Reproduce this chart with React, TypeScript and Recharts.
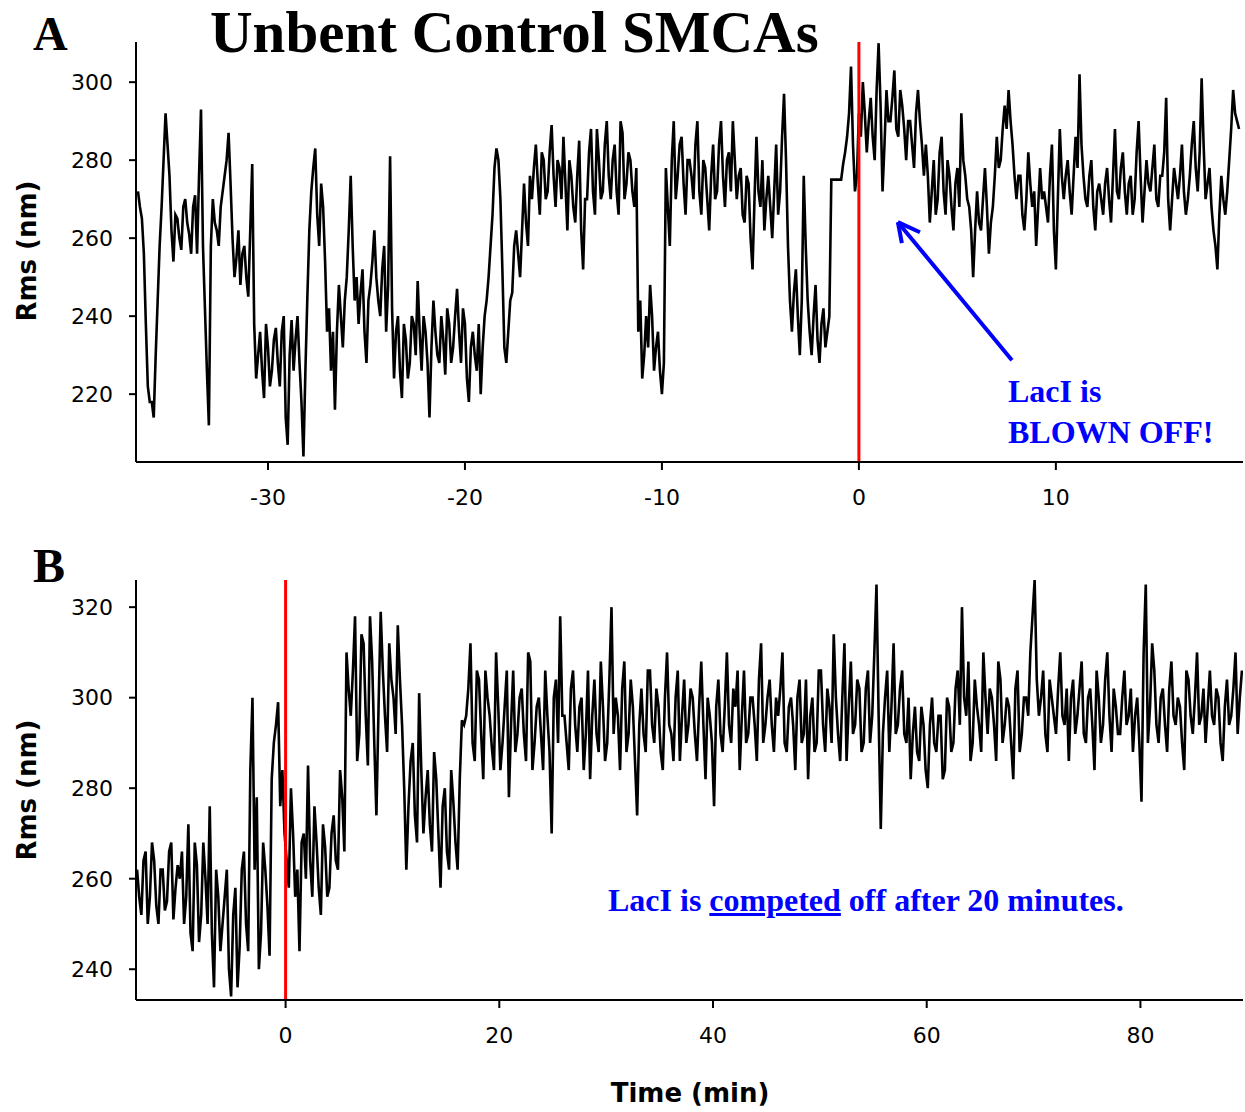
import React from 'react';
import { LineChart, Line, XAxis, YAxis, ReferenceLine } from 'recharts';

// Panel A: LacI blown off. Samples every 0.2 min from -36.6, plus the
// in-between samples (offset 0.1 min) read separately.
const A_START = -36.6;
const A_STEP = 0.2;
const rmsA = [
  272, 265, 238, 218, 214, 244, 268, 292, 276, 254,
  265, 257, 270, 261, 268, 256, 293, 242, 212, 270,
  262, 268, 276, 287, 260, 255, 248, 258, 245, 279,
  224, 236, 219, 232, 226, 237, 222, 240, 207, 239,
  234, 228, 204, 245, 272, 283, 258, 268, 236, 226,
  216, 248, 232, 250, 276, 244, 238, 252, 228, 248,
  262, 244, 252, 236, 281, 224, 240, 219, 234, 228,
  238, 249, 226, 236, 214, 244, 230, 240, 225, 238,
  232, 247, 228, 238, 218, 236, 226, 220, 240, 250,
  266, 283, 270, 232, 236, 246, 262, 250, 274, 258,
  270, 284, 266, 280, 272, 289, 268, 278, 286, 262,
  276, 264, 285, 252, 270, 288, 266, 280, 272, 290,
  270, 284, 266, 287, 274, 280, 268, 236, 224, 240,
  248, 226, 236, 220, 278, 258, 290, 276, 286, 266,
  280, 270, 290, 266, 278, 262, 284, 272, 290, 268,
  282, 290, 270, 278, 264, 274, 252, 286, 268, 262,
  276, 260, 284, 272, 297, 258, 236, 252, 230, 276,
  244, 230, 248, 228, 242, 236, 275, 275, 275, 279,
  286, 304, 272, 292, 300, 282, 296, 280, 310, 272,
  298, 290, 303, 286, 294, 280, 290, 278, 298, 284,
  284, 264, 280, 270, 286, 266, 276, 262, 278, 292,
  276, 268, 250, 272, 262, 278, 256, 268, 286, 280,
  294, 298, 284, 270, 276, 262, 282, 268, 258, 278,
  272, 264, 284, 252, 288, 270, 280, 266, 286, 302,
  276, 268, 280, 262, 274, 266, 278, 264, 288, 270,
  282, 266, 276, 270, 290, 264, 280, 272, 284, 268,
  276, 296, 262, 278, 270, 284, 266, 276, 290, 272,
  301, 270, 278, 262, 252, 276, 266, 280, 298, 290,
];
const rmsAMid = [
  268, 256, 222, 218, 230, 258, 280, 284, 262, 266,
  260, 268, 264, 256, 271, 276, 258, 226, 258, 264,
  258, 272, 280, 274, 250, 262, 256, 250, 262, 238,
  230, 226, 238, 222, 234, 228, 236, 214, 230, 226,
  240, 218, 226, 262, 278, 266, 274, 254, 242, 236,
  236, 240, 244, 262, 258, 250, 246, 236, 244, 254,
  250, 240, 258, 248, 242, 236, 226, 238, 224, 240,
  230, 236, 240, 228, 232, 236, 228, 234, 242, 228,
  240, 236, 242, 224, 232, 230, 238, 232, 244, 258,
  278, 280, 252, 228, 244, 258, 256, 262, 264, 276,
  278, 274, 282, 270, 282, 276, 280, 270, 274, 280,
  268, 276, 262, 270, 282, 272, 288, 270, 284, 276,
  280, 272, 290, 270, 282, 272, 278, 244, 230, 232,
  240, 232, 226, 228, 268, 280, 270, 284, 274, 280,
  276, 284, 272, 280, 270, 276, 270, 284, 276, 280,
  272, 280, 276, 266, 276, 260, 270, 272, 280, 270,
  268, 272, 266, 286, 280, 244, 246, 240, 244, 258,
  236, 240, 234, 238, 232, 240, 275, 275, 275, 282,
  292, 284, 276, 286, 292, 290, 286, 298, 294, 284,
  290, 296, 288, 298, 288, 290, 284, 292, 290, 276,
  276, 272, 266, 282, 272, 280, 268, 274, 268, 280,
  270, 262, 262, 264, 270, 268, 264, 276, 278, 288,
  288, 290, 276, 276, 266, 270, 274, 272, 268, 270,
  268, 276, 262, 270, 276, 276, 272, 276, 278, 284,
  270, 276, 268, 272, 270, 274, 270, 276, 272, 278,
  272, 274, 266, 282, 276, 272, 274, 278, 270, 276,
  282, 270, 270, 274, 276, 272, 270, 284, 278, 282,
  284, 274, 268, 258, 266, 270, 272, 288, 292, 288,
];
const ticksAx = [-30, -20, -10, 0, 10];
const ticksAy = [220, 240, 260, 280, 300];

// Panel B: LacI competed off. Samples every 0.4 min from -13.9, plus the
// in-between samples (offset 0.2 min).
const B_START = -13.9;
const B_STEP = 0.4;
const rmsB = [
  262, 252, 266, 256, 264, 250, 262, 255, 268, 258,
  260, 250, 272, 244, 263, 252, 260, 276, 236, 256,
  250, 262, 234, 258, 245, 266, 244, 300, 278, 248,
  262, 243, 290, 299, 284, 264, 280, 256, 244, 270,
  285, 256, 268, 252, 267, 258, 274, 262, 278, 310,
  296, 318, 292, 312, 285, 308, 274, 319, 296, 312,
  300, 316, 294, 262, 286, 274, 301, 270, 284, 266,
  282, 258, 280, 262, 277, 262, 295, 296, 312, 286,
  304, 282, 300, 289, 310, 284, 298, 278, 306, 292,
  302, 286, 308, 290, 300, 284, 296, 270, 304, 318,
  296, 284, 306, 288, 300, 292, 282, 304, 288, 298,
  290, 320, 300, 284, 308, 292, 298, 274, 302, 288,
  306, 290, 298, 284, 310, 292, 300, 286, 304, 294,
  300, 286, 308, 282, 296, 276, 304, 288, 310, 290,
  298, 284, 306, 292, 300, 286, 312, 294, 304, 288,
  296, 310, 288, 300, 284, 304, 292, 282, 300, 290,
  306, 288, 298, 314, 292, 300, 286, 308, 294, 302,
  290, 306, 296, 325, 271, 300, 288, 312, 294, 306,
  290, 282, 298, 286, 294, 280, 300, 288, 296, 284,
  298, 290, 306, 320, 296, 286, 304, 294, 310, 292,
  300, 286, 304, 294, 298, 282, 306, 292, 300, 310,
  326, 296, 306, 288, 300, 292, 310, 294, 286, 304,
  296, 308, 290, 302, 284, 300, 294, 310, 288, 298,
  292, 306, 296, 288, 300, 277, 325, 298, 306, 290,
  302, 288, 308, 294, 298, 284, 304, 292, 310, 296,
  290, 306, 294, 300, 286, 304, 296, 310, 300,
];
const rmsBMid = [
  256, 264, 250, 268, 254, 262, 253, 266, 251, 263,
  266, 256, 248, 268, 246, 268, 250, 248, 262, 244,
  256, 240, 252, 236, 262, 250, 284, 262, 240, 268,
  254, 282, 294, 276, 270, 258, 270, 262, 268, 260,
  264, 276, 258, 272, 256, 270, 264, 284, 266, 302,
  306, 286, 314, 296, 318, 290, 298, 306, 288, 304,
  292, 304, 280, 276, 290, 268, 284, 278, 272, 288,
  270, 276, 266, 284, 268, 282, 294, 302, 290, 306,
  292, 306, 296, 284, 298, 290, 306, 294, 288, 300,
  292, 310, 284, 298, 292, 306, 288, 300, 290, 296,
  290, 302, 294, 298, 284, 306, 296, 292, 308, 286,
  304, 292, 296, 302, 288, 304, 286, 294, 292, 306,
  294, 302, 288, 300, 294, 286, 306, 296, 290, 302,
  292, 298, 294, 300, 290, 298, 292, 298, 294, 302,
  306, 296, 290, 300, 294, 304, 290, 300, 294, 300,
  302, 290, 298, 294, 300, 290, 304, 296, 288, 306,
  294, 302, 290, 300, 286, 312, 298, 292, 304, 288,
  302, 290, 310, 296, 292, 306, 298, 292, 302, 292,
  300, 292, 288, 298, 284, 294, 290, 296, 282, 300,
  288, 302, 294, 300, 308, 290, 298, 288, 300, 302,
  294, 308, 290, 300, 290, 302, 288, 300, 296, 318,
  304, 300, 292, 304, 296, 302, 296, 302, 300, 292,
  302, 292, 300, 294, 306, 290, 304, 296, 302, 292,
  300, 294, 302, 296, 290, 310, 290, 312, 294, 300,
  294, 302, 296, 300, 290, 306, 296, 300, 294, 302,
  298, 296, 302, 290, 298, 294, 302, 292, 306,
];
const ticksBx = [0, 20, 40, 60, 80];
const ticksBy = [240, 260, 280, 300, 320];

// arrow in panel A (data coords: min, nm)
const arrowTail = { x: 7.77, y: 228.7 };
const arrowTip = { x: 1.98, y: 264.1 };
const arrowArm1 = { x: 2.18, y: 258.7 };
const arrowArm2 = { x: 3.1, y: 261.5 };

function buildSeries(start: number, step: number, main: number[], mid: number[]) {
  const rows: { t: number; rms: number }[] = [];
  main.forEach((v, i) => {
    rows.push({ t: +(start + i * step).toFixed(2), rms: v });
    if (i < mid.length) rows.push({ t: +(start + i * step + step / 2).toFixed(2), rms: mid[i] });
  });
  return rows;
}

const dataA = buildSeries(A_START, A_STEP, rmsA, rmsAMid);
const dataB = buildSeries(B_START, B_STEP, rmsB, rmsBMid);

const tickStyle = { fill: '#000', fontSize: 22, fontFamily: 'DejaVu Sans' };
const axisStroke = { stroke: '#000', strokeWidth: 2 };

const abs = (left: number, top: number): React.CSSProperties => ({ position: 'absolute', left, top, lineHeight: 1, whiteSpace: 'nowrap' });

function RmsLabel({ cy }: { cy: number }) {
  return (
    <div
      style={{
        position: 'absolute', left: 27 - 100, top: cy - 15, width: 200, height: 30, lineHeight: '30px',
        textAlign: 'center', transform: 'rotate(-90deg)', fontFamily: 'DejaVu Sans', fontWeight: 'bold', fontSize: 26,
      }}
    >
      Rms (nm)
    </div>
  );
}

export default function App() {
  return (
    <div style={{ position: 'absolute', left: 0, top: 0, width: 1245, height: 1112, background: '#fff', overflow: 'hidden' }}>
      <div style={{ position: 'absolute', left: 0, top: 0 }}>
        <LineChart width={1245} height={530} data={dataA} margin={{ top: 42, right: 2, left: 0, bottom: 28 }}>
          <XAxis
            dataKey="t" type="number" domain={[-36.7, 19.5]} ticks={ticksAx} allowDataOverflow
            height={40} tick={tickStyle} tickSize={8} tickMargin={19} axisLine={axisStroke} tickLine={axisStroke}
          />
          <YAxis
            type="number" domain={[202.6, 310.3]} ticks={ticksAy} allowDataOverflow
            width={136} tick={tickStyle} tickSize={7} tickMargin={16} axisLine={axisStroke} tickLine={axisStroke}
          />
          <Line dataKey="rms" stroke="#000" strokeWidth={2.6} dot={false} isAnimationActive={false} type="linear" />
          <ReferenceLine x={0} stroke="#ff0000" strokeWidth={3} />
          <ReferenceLine segment={[arrowTail, arrowTip]} stroke="#0000ff" strokeWidth={4} />
          <ReferenceLine segment={[arrowTip, arrowArm1]} stroke="#0000ff" strokeWidth={4} />
          <ReferenceLine segment={[arrowTip, arrowArm2]} stroke="#0000ff" strokeWidth={4} />
        </LineChart>
      </div>
      <div style={{ position: 'absolute', left: 0, top: 540 }}>
        <LineChart width={1245} height={530} data={dataB} margin={{ top: 40, right: 2, left: 0, bottom: 30 }}>
          <XAxis
            dataKey="t" type="number" domain={[-14, 89.6]} ticks={ticksBx} allowDataOverflow
            height={40} tick={tickStyle} tickSize={8} tickMargin={19} axisLine={axisStroke} tickLine={axisStroke}
          />
          <YAxis
            type="number" domain={[233.2, 326]} ticks={ticksBy} allowDataOverflow
            width={136} tick={tickStyle} tickSize={7} tickMargin={16} axisLine={axisStroke} tickLine={axisStroke}
          />
          <Line dataKey="rms" stroke="#000" strokeWidth={2.6} dot={false} isAnimationActive={false} type="linear" />
          <ReferenceLine x={0} stroke="#ff0000" strokeWidth={3} />
        </LineChart>
      </div>

      <div style={{ ...abs(33, 10), fontFamily: 'Liberation Serif', fontWeight: 'bold', fontSize: 48 }}>A</div>
      <div style={{ ...abs(33, 542), fontFamily: 'Liberation Serif', fontWeight: 'bold', fontSize: 48 }}>B</div>
      <div style={{ ...abs(210, 3), fontFamily: 'Liberation Serif', fontWeight: 'bold', fontSize: 59 }}>Unbent Control SMCAs</div>

      <div style={{ ...abs(1008, 371), fontFamily: 'Liberation Serif', fontWeight: 'bold', fontSize: 32, color: '#0000ff', lineHeight: '41px' }}>
        LacI is<br />BLOWN OFF!
      </div>
      <div style={{ ...abs(608, 884), fontFamily: 'Liberation Serif', fontWeight: 'bold', fontSize: 32, color: '#0000ff' }}>
        LacI is <u>competed</u> off after 20 minutes.
      </div>

      <RmsLabel cy={251} />
      <RmsLabel cy={790} />
      <div style={{ ...abs(590, 1080), width: 200, textAlign: 'center', fontFamily: 'DejaVu Sans', fontWeight: 'bold', fontSize: 26 }}>
        Time (min)
      </div>
    </div>
  );
}
